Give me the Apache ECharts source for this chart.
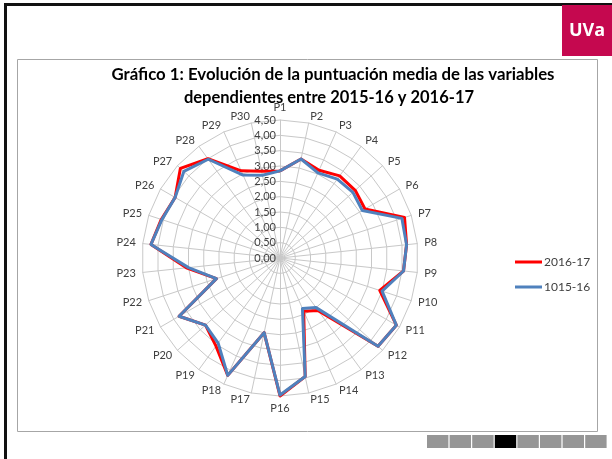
<!DOCTYPE html>
<html>
<head>
<meta charset="utf-8">
<script src="https://cdn.jsdelivr.net/npm/echarts@6/dist/echarts.min.js"></script>
<style>
html,body{margin:0;padding:0;background:#fff;}
#c{width:612px;height:459px;}
</style>
</head>
<body>
<div id="c"></div>
<script>
const categories = ['P1','P2','P3','P4','P5','P6','P7','P8','P9','P10','P11','P12','P13','P14','P15','P16','P17','P18','P19','P20','P21','P22','P23','P24','P25','P26','P27','P28','P29','P30'];
const values2016_17 = [2.84,3.30,3.13,3.31,3.30,3.20,4.27,4.15,4.05,3.42,4.38,4.30,2.12,1.90,3.95,4.50,2.49,4.19,3.55,3.27,3.80,2.18,3.07,4.23,4.07,3.95,4.37,4.00,3.11,2.89];
const values1015_16 = [2.84,3.30,3.04,3.18,3.20,3.10,4.18,4.15,4.05,3.50,4.38,4.30,2.00,1.80,3.95,4.47,2.49,4.19,3.43,3.27,3.80,2.18,3.00,4.23,4.05,3.95,4.22,3.98,2.96,2.76];
const seriesNames = ['2016-17','1015-16'];
const titleLines = ['Gráfico 1: Evolución de la puntuación media de las variables','dependientes entre 2015-16 y 2016-17'];

// ECharts radar runs counter-clockwise; reorder so P1..P30 go clockwise
const n = categories.length;
const order = [0];
for (let i = n - 1; i >= 1; i--) order.push(i);
const ind = order.map(i => ({name: categories[i], max: 4.5, min: 0}));
const d1 = order.map(i => values2016_17[i]);
const d2 = order.map(i => values1015_16[i]);

const chart = echarts.init(document.getElementById('c'));
const squares = [];
for (let k = 0; k < 8; k++) {
  squares.push({type:'rect', shape:{x:427 + k*22.6, y:435, width:21.4, height:13}, style:{fill: k===3 ? '#000' : '#969696'}});
}
chart.setOption({
  backgroundColor:'#ffffff',
  animation:false,
  graphic:[
    {type:'rect', shape:{x:4, y:3, width:608, height:3}, style:{fill:'#111'}},
    {type:'rect', shape:{x:4, y:3, width:3, height:456}, style:{fill:'#111'}},
    {type:'rect', shape:{x:562, y:5, width:50, height:51}, style:{fill:'#C5084F'}},
    {type:'text', x:587, y:31, style:{text:'UVa', fill:'#fff', font:'bold 18px "Open Sans", sans-serif', align:'center', verticalAlign:'middle'}},
    {type:'rect', shape:{x:17.5, y:59.5, width:580, height:372}, style:{fill:'none', stroke:'#a6a6a6', lineWidth:1}},
    {type:'text', x:333, y:75, style:{text:titleLines[0], fill:'#000', font:'bold 16.8px Lato, sans-serif', align:'center', verticalAlign:'middle'}},
    {type:'text', x:329, y:98, style:{text:titleLines[1], fill:'#000', font:'bold 16.5px Lato, sans-serif', align:'center', verticalAlign:'middle'}}
  ].concat(squares),
  legend:{
    orient:'vertical', left:510, top:251, itemWidth:27, itemHeight:3, itemGap:13, icon:'rect',
    data:seriesNames,
    textStyle:{color:'#404040', fontSize:12, fontFamily:'Lato, sans-serif', padding:[0,0,0,-3]}
  },
  radar:{
    center:[280,258], radius:138, startAngle:90, splitNumber:9, shape:'polygon',
    indicator:ind,
    axisName:{color:'#404040', fontSize:11, fontFamily:'Lato, sans-serif'},
    nameGap:7,
    splitLine:{lineStyle:{color:'#c8c8c8', width:1}},
    splitArea:{show:false},
    axisLine:{lineStyle:{color:'#c8c8c8', width:1}},
    axisTick:{show:false},
    axisLabel:{show:false}
  },
  polar:{center:[280,258], radius:138},
  angleAxis:{type:'value', min:0, max:360, show:false, startAngle:90},
  radiusAxis:{
    type:'value', min:0, max:4.5, interval:0.5,
    axisLine:{show:false}, axisTick:{show:false}, splitLine:{show:false},
    axisLabel:{show:true, color:'#404040', fontSize:11, fontFamily:'Lato, sans-serif', margin:4,
      formatter: v => v.toFixed(2).replace('.', ',')}
  },
  series:[{
    type:'radar',
    symbol:'none',
    data:[
      {name:seriesNames[0], value:d1, lineStyle:{color:'#FF0000', width:3}, itemStyle:{color:'#FF0000'}},
      {name:seriesNames[1], value:d2, lineStyle:{color:'#4F81BD', width:3}, itemStyle:{color:'#4F81BD'}}
    ]
  }]
});
</script>
</body>
</html>
